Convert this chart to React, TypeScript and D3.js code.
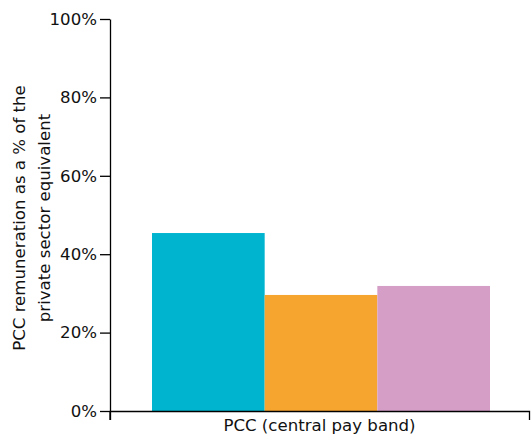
import React, { useEffect, useRef } from "react";
import * as d3 from "d3";

const categories = ["PCC (central pay band)"];
const seriesNames = ["Series A", "Series B", "Series C"];
const seriesValues = [45.4, 29.6, 31.9];
const seriesColors = ["#00B4CF", "#F6A52F", "#D59EC7"];
const yTicks = [0, 20, 40, 60, 80, 100];
const yLabelLines = ["PCC remuneration as a % of the", "private sector equivalent"];

export default function App() {
  const ref = useRef<SVGSVGElement>(null);
  useEffect(() => {
    const svg = d3.select(ref.current);
    svg.selectAll("*").remove();
    const W = 531, H = 442;
    const m = { left: 110, right: 2, top: 19, bottom: 31 };
    const font = "'DejaVu Sans', sans-serif";
    const fs = 16.6;
    const x0 = d3.scaleBand().domain(categories).range([m.left, W - m.right]).paddingInner(0).paddingOuter(0.1);
    const y = d3.scaleLinear().domain([0, 100]).range([H - m.bottom, m.top]);
    const groupW = 338;
    const x1 = d3.scaleBand().domain(seriesNames).range([0, groupW]).padding(0);
    const g = svg.append("g");
    categories.forEach((c) => {
      const cx = (x0(c) as number) + x0.bandwidth() / 2 + 1.5;
      g.selectAll("rect.b")
        .data(seriesValues)
        .enter()
        .append("rect")
        .attr("x", (_, i) => cx - groupW / 2 + (x1(seriesNames[i]) as number))
        .attr("width", x1.bandwidth())
        .attr("y", (d) => y(d))
        .attr("height", (d) => y(0) - y(d))
        .attr("fill", (_, i) => seriesColors[i]);
    });
    // x axis
    const xa = svg.append("g").attr("transform", `translate(0,${y(0)})`)
      .call(d3.axisBottom(x0).tickSize(0).tickSizeOuter(9).tickPadding(3));
    xa.select(".domain").attr("stroke", "#000").attr("stroke-width", 1.3);
    xa.selectAll("text").attr("font-family", font).attr("font-size", fs).attr("fill", "#111").attr("dy", "1.05em");
    // y axis
    const ya = svg.append("g").attr("transform", `translate(${m.left},0)`)
      .call(d3.axisLeft(y).tickValues(yTicks).tickFormat((d) => `${d}%`).tickSize(10).tickSizeOuter(0).tickPadding(3));
    ya.select(".domain").attr("stroke", "#000").attr("stroke-width", 1.3);
    ya.selectAll(".tick line").attr("stroke", "#000").attr("stroke-width", 1.3);
    ya.selectAll("text").attr("font-family", font).attr("font-size", fs).attr("fill", "#111");
    // extend y axis below
    svg.append("line").attr("x1", m.left).attr("x2", m.left).attr("y1", y(0)).attr("y2", y(0) + 9)
      .attr("stroke", "#000").attr("stroke-width", 1.3);
    // y label
    const yl = svg.append("text").attr("transform", `translate(19,218) rotate(-90)`)
      .attr("text-anchor", "middle").attr("font-family", font).attr("font-size", fs).attr("fill", "#111");
    yLabelLines.forEach((t, i) => {
      yl.append("tspan").attr("x", 0).attr("dy", i === 0 ? "0.35em" : "1.5em").text(t);
    });
  }, []);
  return (
    <div style={{ position: "absolute", left: 0, top: 0 }}>
      <svg ref={ref} width={531} height={442} style={{ display: "block" }} />
    </div>
  );
}
